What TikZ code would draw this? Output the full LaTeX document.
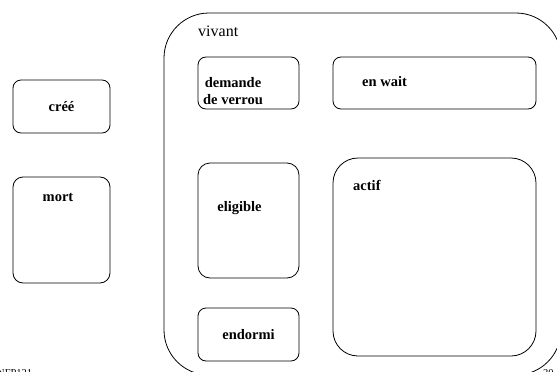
\documentclass[tikz,border=0pt]{standalone}
\usepackage{fontspec}
\setmainfont{Liberation Serif}
\usepackage{tikz}

\tikzset{
  etat/.style={draw, line width=0.8pt, rounded corners=8pt, inner sep=0pt},
  titre/.style={font=\fontsize{14.5}{17}\selectfont\bfseries, inner sep=0pt, align=center},
  petit/.style={font=\fontsize{10.5}{12}\selectfont, inner sep=0pt}
}

\begin{document}
\begin{tikzpicture}[x=1pt, y=-1pt]
    \useasboundingbox (0,0) rectangle (557,372);
    \clip (0,0) rectangle (557,372);

    % le gros etat vivant
    \node[etat, rounded corners=45pt, minimum width=397pt, minimum height=362pt] (vivant) at (362.5,194) {};
    \node[font=\fontsize{16}{18}\selectfont, anchor=west, inner sep=0pt] (vivantlbl) at (198,31) {vivant};

    % etats hors de vivant
    \node[etat, minimum width=97pt, minimum height=53pt] (cree) at (61.5,106.5) {};
    \node[titre] (creelbl) at (cree) {créé};
    \node[etat, rounded corners=10pt, minimum width=97pt, minimum height=106pt] (mort) at (61.5,230) {};
    \node[titre] (mortlbl) at (58,197) {mort};

    % etats dans vivant
    \node[etat, minimum width=101pt, minimum height=52pt] (demande) at (248.5,83) {};
    \node[titre] (demandelbl) at (233,91) {demande\\de verrou};
    \node[etat, minimum width=203pt, minimum height=52pt] (wait) at (434.5,83) {};
    \node[titre, anchor=west] (waitlbl) at (362,82) {en wait};
    \node[etat, rounded corners=12pt, minimum width=101pt, minimum height=115pt] (eligible) at (248.5,220.5) {};
    \node[titre] (eligiblelbl) at (239.5,208) {eligible};
    \node[etat, rounded corners=25pt, minimum width=203pt, minimum height=198pt] (actif) at (434.5,257) {};
    \node[titre, anchor=west] (actiflbl) at (353,185) {actif};
    \node[etat, minimum width=101pt, minimum height=53pt] (endormi) at (248.5,334.5) {};
    \node[titre] (endormilbl) at (endormi) {endormi};

    % bas de page
    \node[petit, anchor=base west] (cours) at (-3,376) {NFP121};
    \node[petit, anchor=base west] (page) at (543,376) {30};
\end{tikzpicture}
\end{document}
